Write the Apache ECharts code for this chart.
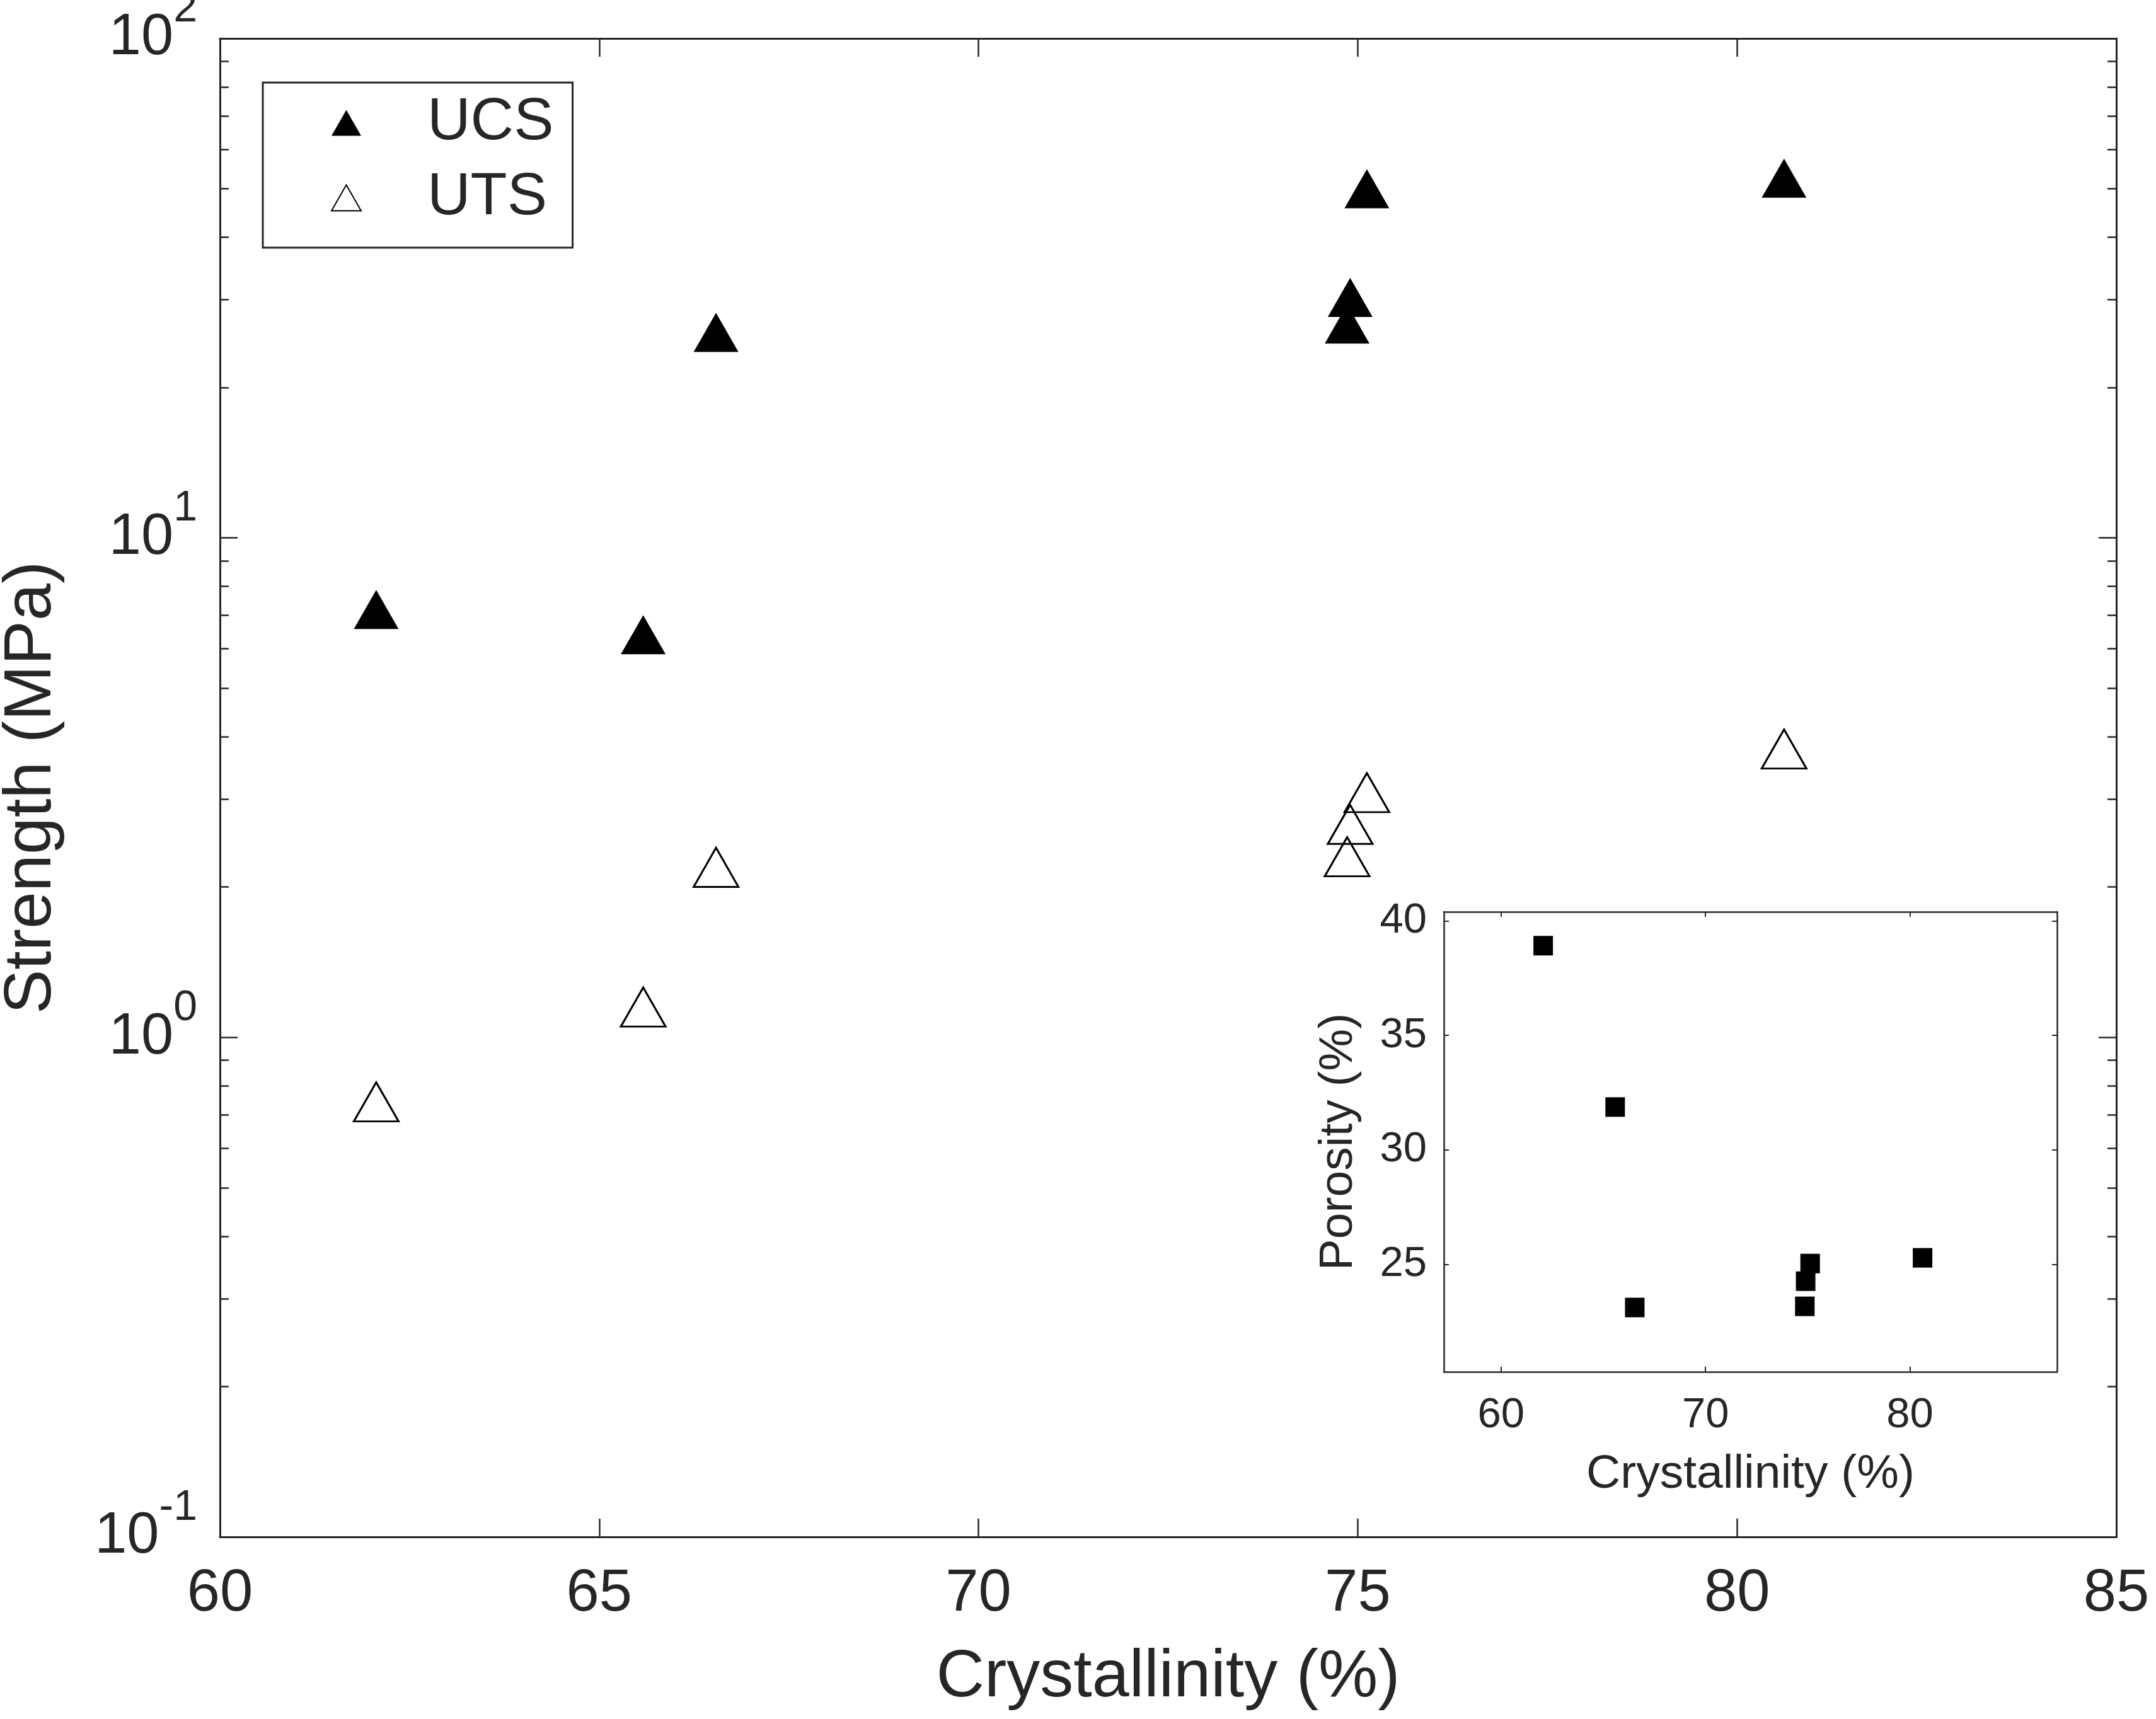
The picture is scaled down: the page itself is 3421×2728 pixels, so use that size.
<!DOCTYPE html>
<html>
<head>
<meta charset="utf-8">
<title>Strength vs crystallinity</title>
<script src="https://cdn.jsdelivr.net/npm/echarts@6.0.0/dist/echarts.min.js"></script>
<style>
  html, body { margin: 0; padding: 0; background: #fff; }
  #main { width: 3421px; height: 2728px; }
</style>
</head>
<body>
<div id="main"></div>
<script>
var FONT = "'Liberation Sans', Arial, Helvetica, sans-serif";
var INK = '#262626';

// data
var crystallinity = [62.06, 65.58, 66.54, 74.86, 74.90, 75.12, 80.62];
var ucs = [7.19, 6.40, 25.8, 26.8, 30.3, 50.0, 52.5];
var uts = [0.743, 1.15, 2.19, 2.30, 2.67, 3.09, 3.78];
var porosity = [38.92, 31.87, 23.11, 23.16, 24.26, 25.03, 25.28];

// ticks
var strengthMinorTicks = [0.2, 0.3, 0.4, 0.5, 0.6, 0.7, 0.8, 0.9,
  2, 3, 4, 5, 6, 7, 8, 9, 20, 30, 40, 50, 60, 70, 80, 90];
var insetXTicks = [60, 70, 80];
var insetYTicks = [25, 30, 35, 40];

var chartDom = document.getElementById('main');
var myChart = echarts.init(chartDom, null, { renderer: 'canvas' });
var option;

function pairs(xs, ys) {
  return xs.map(function (x, i) { return [x, ys[i]]; });
}

var minorLog = strengthMinorTicks.map(function (v) { return Math.log10(v); });

var boxLine = { show: true, onZero: false, lineStyle: { color: INK, width: 3 } };
var insetLine = { show: true, onZero: false, lineStyle: { color: INK, width: 2.5 } };

option = {
  animation: false,
  backgroundColor: '#fff',
  textStyle: { fontFamily: FONT, color: INK },
  grid: [
    { left: 349, top: 61, width: 3009, height: 2378, outerBoundsMode: 'none', containLabel: false },
    { left: 2291, top: 1447, width: 973, height: 730, outerBoundsMode: 'none', containLabel: false,
      show: true, backgroundColor: '#fff', borderWidth: 0 }
  ],
  legend: {
    data: ['UCS', 'UTS'],
    orient: 'vertical',
    left: 417,
    top: 131,
    padding: [14, 30, 29, 108],
    itemGap: 19,
    itemWidth: 47,
    itemHeight: 41,
    symbolKeepAspect: false,
    borderColor: INK,
    borderWidth: 3,
    backgroundColor: '#fff',
    textStyle: { fontFamily: FONT, fontSize: 95, color: INK, lineHeight: 100, padding: [0, 0, 0, 100] }
  },
  xAxis: [
    {
      type: 'value', gridIndex: 0, position: 'bottom',
      min: 60, max: 85, interval: 5,
      name: 'Crystallinity (%)', nameLocation: 'middle', nameGap: 171,
      nameTextStyle: { fontFamily: FONT, fontSize: 106, color: INK },
      axisLine: boxLine,
      axisTick: { inside: true, length: 29, lineStyle: { color: INK, width: 2.5 } },
      axisLabel: { fontFamily: FONT, fontSize: 94, color: INK, margin: 44 },
      splitLine: { show: false }
    },
    {
      type: 'value', gridIndex: 0, position: 'top',
      min: 60, max: 85, interval: 5,
      axisLine: boxLine,
      axisTick: { inside: true, length: 29, lineStyle: { color: INK, width: 2.5 } },
      axisLabel: { show: false },
      splitLine: { show: false }
    },
    {
      type: 'value', gridIndex: 1, position: 'bottom',
      min: 57.2, max: 87.2,
      name: 'Crystallinity (%)', nameLocation: 'middle', nameGap: 126,
      nameTextStyle: { fontFamily: FONT, fontSize: 75, color: INK },
      axisLine: insetLine,
      axisTick: { inside: true, length: 8, customValues: insetXTicks, lineStyle: { color: INK, width: 2 } },
      axisLabel: { fontFamily: FONT, fontSize: 67, color: INK, margin: 36, customValues: insetXTicks },
      splitLine: { show: false }
    },
    {
      type: 'value', gridIndex: 1, position: 'top',
      min: 57.2, max: 87.2,
      axisLine: insetLine,
      axisTick: { inside: true, length: 8, customValues: insetXTicks, lineStyle: { color: INK, width: 2 } },
      axisLabel: { show: false },
      splitLine: { show: false }
    }
  ],
  yAxis: [
    {
      type: 'log', logBase: 10, gridIndex: 0, position: 'left',
      min: 0.1, max: 100,
      name: 'Strength (MPa)', nameLocation: 'middle', nameGap: 245,
      nameTextStyle: { fontFamily: FONT, fontSize: 106, color: INK },
      axisLine: boxLine,
      axisTick: { inside: true, length: 28, lineStyle: { color: INK, width: 2.5 } },
      axisLabel: {
        margin: 36,
        formatter: function (v) {
          return '{b|10}{s|' + Math.round(Math.log10(v)) + '}';
        },
        rich: {
          b: { fontFamily: FONT, fontSize: 92, color: INK, lineHeight: 92, verticalAlign: 'bottom' },
          s: { fontFamily: FONT, fontSize: 68, color: INK, lineHeight: 68, verticalAlign: 'bottom', padding: [0, 0, 58, 0] }
        }
      },
      splitLine: { show: false }
    },
    {
      type: 'log', logBase: 10, gridIndex: 0, position: 'right',
      min: 0.1, max: 100,
      axisLine: boxLine,
      axisTick: { inside: true, length: 28, lineStyle: { color: INK, width: 2.5 } },
      axisLabel: { show: false },
      splitLine: { show: false }
    },
    {
      // minor ticks, left
      type: 'value', gridIndex: 0, position: 'left', offset: 0,
      min: -1, max: 2,
      axisLine: { show: false, onZero: false },
      axisTick: { inside: true, length: 14, customValues: minorLog, lineStyle: { color: INK, width: 2.5 } },
      axisLabel: { show: false },
      splitLine: { show: false }
    },
    {
      // minor ticks, right
      type: 'value', gridIndex: 0, position: 'right', offset: 0,
      min: -1, max: 2,
      axisLine: { show: false, onZero: false },
      axisTick: { inside: true, length: 14, customValues: minorLog, lineStyle: { color: INK, width: 2.5 } },
      axisLabel: { show: false },
      splitLine: { show: false }
    },
    {
      type: 'value', gridIndex: 1, position: 'left',
      min: 20.3, max: 40.4,
      name: 'Porosity (%)', nameLocation: 'middle', nameGap: 129,
      nameTextStyle: { fontFamily: FONT, fontSize: 75, color: INK },
      axisLine: insetLine,
      axisTick: { inside: true, length: 8, customValues: insetYTicks, lineStyle: { color: INK, width: 2 } },
      axisLabel: { fontFamily: FONT, fontSize: 67, color: INK, margin: 27, customValues: insetYTicks },
      splitLine: { show: false }
    },
    {
      type: 'value', gridIndex: 1, position: 'right',
      min: 20.3, max: 40.4,
      axisLine: insetLine,
      axisTick: { inside: true, length: 8, customValues: insetYTicks, lineStyle: { color: INK, width: 2 } },
      axisLabel: { show: false },
      splitLine: { show: false }
    }
  ],
  series: [
    {
      name: 'UCS',
      type: 'scatter',
      xAxisIndex: 0,
      yAxisIndex: 0,
      symbol: 'triangle',
      symbolSize: [71, 62],
      itemStyle: { color: '#000', opacity: 1 },
      data: pairs(crystallinity, ucs)
    },
    {
      name: 'UTS',
      type: 'scatter',
      xAxisIndex: 0,
      yAxisIndex: 0,
      symbol: 'triangle',
      symbolSize: [71, 62],
      itemStyle: { color: 'rgba(255,255,255,0)', borderColor: '#000', borderWidth: 3, opacity: 1 },
      data: pairs(crystallinity, uts)
    },
    {
      name: 'Porosity',
      type: 'scatter',
      xAxisIndex: 2,
      yAxisIndex: 4,
      symbol: 'rect',
      symbolSize: 31,
      itemStyle: { color: '#000', opacity: 1 },
      data: pairs(crystallinity, porosity)
    }
  ]
};

if (chartDom && myChart) {
  myChart.setOption(option);
} else {
  console.error('Failed to initialize the chart');
}
</script>
</body>
</html>
